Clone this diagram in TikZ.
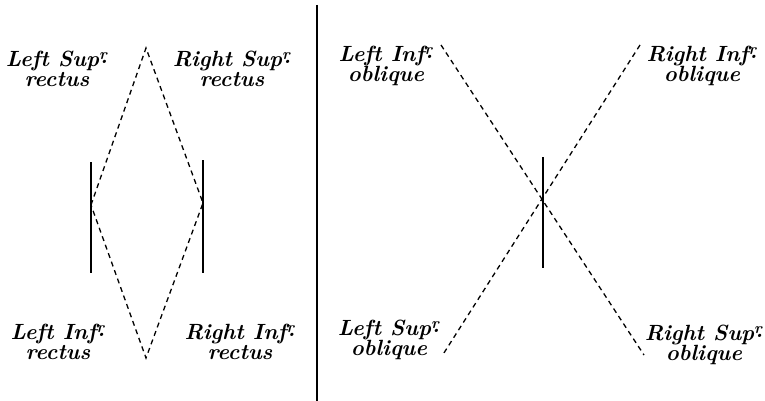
\documentclass[tikz,border=0pt]{standalone}
\newcommand\supdot{\textsuperscript{r}\kern-0.32em\raisebox{0.15em}{.}}
\begin{document}
\begin{tikzpicture}[x=1pt,y=-1pt,
  lbl/.style={align=center,font=\fontsize{22}{20}\selectfont\bfseries\itshape,inner sep=0pt},
  dsh/.style={line width=1.3pt,dash pattern=on 5pt off 4pt},
  solid line/.style={line width=1.6pt}]
\useasboundingbox (0,0) rectangle (765,401);
% divider
\coordinate (dt) at (317,5);
\coordinate (db) at (317,401);
\draw[line width=1.9pt] (dt) -- (db);
% left diagram
\coordinate (lt) at (146,48);
\coordinate (lb) at (146,358);
\coordinate (ll) at (91,205);
\coordinate (lr) at (203,203);
\coordinate (l1a) at (91,162);
\coordinate (l1b) at (91,273);
\coordinate (l2a) at (203,160);
\coordinate (l2b) at (203,273);
\draw[solid line] (l1a) -- (l1b);
\draw[solid line] (l2a) -- (l2b);
\draw[dsh] (ll) -- (lt) -- (lr) -- (lb) -- cycle;
\node[lbl] (lsr) at (57,69) {Left Sup\supdot\\rectus};
\node[lbl] (rsr) at (232,69) {Right Sup\supdot\\rectus};
\node[lbl] (lir) at (58,342) {Left Inf\supdot\\rectus};
\node[lbl] (rir) at (240,342) {Right Inf\supdot\\rectus};
% right diagram
\coordinate (a1) at (441,45);
\coordinate (a2) at (644,355);
\coordinate (b1) at (640,45);
\coordinate (b2) at (442,356);
\coordinate (va) at (543,157);
\coordinate (vb) at (543,268);
\draw[solid line] (va) -- (vb);
\draw[dsh] (a1) -- (a2);
\draw[dsh] (b1) -- (b2);
\node[lbl] (lio) at (386,66) {Left Inf\supdot\\oblique};
\node[lbl] (rio) at (702,66) {Right Inf\supdot\\oblique};
\node[lbl] (lso) at (389,340) {Left Sup\supdot\\oblique};
\node[lbl] (rso) at (704,345) {Right Sup\supdot\\oblique};
\end{tikzpicture}
\end{document}
